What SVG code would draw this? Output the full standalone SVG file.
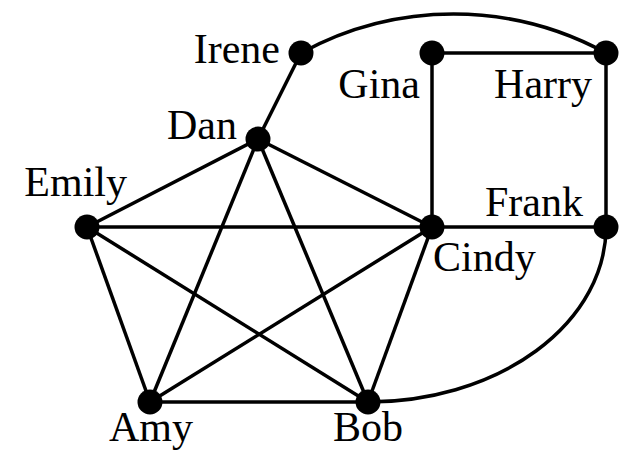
<svg xmlns="http://www.w3.org/2000/svg" width="621" height="451" viewBox="0 0 621 451">
<style>
.e{fill:none;stroke:#000;stroke-width:3.5}
.n{fill:#000}
text{font-family:"Liberation Serif","Times New Roman",serif;font-size:42px;fill:#000}
</style>
<rect width="621" height="451" fill="#fff"/>
<g id="edges">
<path class="e" d="M301,53 A318,318 0 0 1 606,53"/>
<path class="e" d="M606,227 A238,175 0 0 1 368,402"/>
<line class="e" x1="301" y1="53" x2="258" y2="139"/>
<line class="e" x1="432" y1="53" x2="606" y2="53"/>
<line class="e" x1="432" y1="53" x2="432" y2="227"/>
<line class="e" x1="606" y1="53" x2="606" y2="227"/>
<line class="e" x1="432" y1="227" x2="606" y2="227"/>
<line class="e" x1="258" y1="139" x2="87" y2="227"/>
<line class="e" x1="258" y1="139" x2="432" y2="227"/>
<line class="e" x1="258" y1="139" x2="150" y2="402"/>
<line class="e" x1="258" y1="139" x2="368" y2="402"/>
<line class="e" x1="87" y1="227" x2="432" y2="227"/>
<line class="e" x1="87" y1="227" x2="150" y2="402"/>
<line class="e" x1="87" y1="227" x2="368" y2="402"/>
<line class="e" x1="432" y1="227" x2="150" y2="402"/>
<line class="e" x1="432" y1="227" x2="368" y2="402"/>
<line class="e" x1="150" y1="402" x2="368" y2="402"/>
</g>
<g id="irene"><circle class="n" cx="301" cy="53" r="12.5"/><text x="280" y="63" text-anchor="end">Irene</text></g>
<g id="gina"><circle class="n" cx="432" cy="53" r="12.5"/><text x="420" y="98" text-anchor="end">Gina</text></g>
<g id="harry"><circle class="n" cx="606" cy="53" r="12.5"/><text x="592" y="98" text-anchor="end">Harry</text></g>
<g id="dan"><circle class="n" cx="258" cy="139" r="12.5"/><text x="237" y="139" text-anchor="end">Dan</text></g>
<g id="emily"><circle class="n" cx="87" cy="227" r="12.5"/><text x="127" y="196" text-anchor="end">Emily</text></g>
<g id="cindy"><circle class="n" cx="432" cy="227" r="12.5"/><text x="433" y="271">Cindy</text></g>
<g id="frank"><circle class="n" cx="606" cy="227" r="12.5"/><text x="583" y="216" text-anchor="end">Frank</text></g>
<g id="amy"><circle class="n" cx="150" cy="402" r="12.5"/><text x="151" y="441" text-anchor="middle">Amy</text></g>
<g id="bob"><circle class="n" cx="368" cy="402" r="12.5"/><text x="368" y="441" text-anchor="middle">Bob</text></g>
</svg>
